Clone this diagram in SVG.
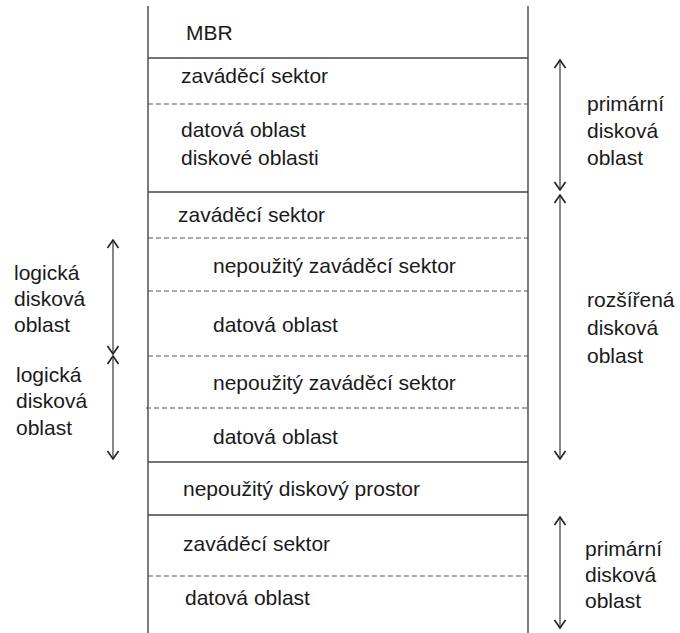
<svg xmlns="http://www.w3.org/2000/svg" width="680" height="633" viewBox="0 0 680 633">
<defs>
<marker id="ah" viewBox="0 0 10 12" refX="9" refY="6" markerWidth="10" markerHeight="12" markerUnits="userSpaceOnUse" orient="auto-start-reverse">
<path d="M1,0.5 L9,6 L1,11.5" fill="none" stroke="#222" stroke-width="1.6"/>
</marker>
</defs>
<style>
text{font-family:"Liberation Sans",Arial,sans-serif;font-size:21px;fill:#1a1a1a}
.box{stroke:#444;stroke-width:1.4;fill:none}
.sep{stroke:#444;stroke-width:1.4}
.dash{stroke:#555;stroke-width:1;stroke-dasharray:5,3}
.arr{stroke:#555;stroke-width:1.4;fill:none}
</style>
<g id="frame">
<line class="box" x1="148" y1="6" x2="148" y2="633"/>
<line class="box" x1="528" y1="6" x2="528" y2="633"/>
</g>
<g id="separators">
<line class="sep" x1="148" y1="58" x2="528" y2="58"/>
<line class="dash" x1="148" y1="104" x2="528" y2="104"/>
<line class="sep" x1="148" y1="192" x2="528" y2="192"/>
<line class="dash" x1="148" y1="238" x2="528" y2="238"/>
<line class="dash" x1="148" y1="291" x2="528" y2="291"/>
<line class="dash" x1="148" y1="356" x2="528" y2="356"/>
<line class="dash" x1="146" y1="408" x2="528" y2="408"/>
<line class="sep" x1="148" y1="462" x2="528" y2="462"/>
<line class="sep" x1="148" y1="515" x2="528" y2="515"/>
<line class="dash" x1="148" y1="576" x2="528" y2="576"/>
</g>
<g id="mbr"><text x="186" y="40">MBR</text></g>
<g id="p1-boot"><text x="181" y="83">zaváděcí sektor</text></g>
<g id="p1-data"><text x="181" y="137">datová oblast</text><text x="181" y="165">diskové oblasti</text></g>
<g id="ext-boot"><text x="178" y="222">zaváděcí sektor</text></g>
<g id="l1-boot"><text x="213" y="273">nepoužitý zaváděcí sektor</text></g>
<g id="l1-data"><text x="213" y="332">datová oblast</text></g>
<g id="l2-boot"><text x="213" y="390">nepoužitý zaváděcí sektor</text></g>
<g id="l2-data"><text x="213" y="444">datová oblast</text></g>
<g id="unused"><text x="183" y="496">nepoužitý diskový prostor</text></g>
<g id="p2-boot"><text x="183" y="551">zaváděcí sektor</text></g>
<g id="p2-data"><text x="185" y="605">datová oblast</text></g>
<g id="label-primary1"><text x="587" y="111">primární</text><text x="587" y="138">disková</text><text x="587" y="165">oblast</text></g>
<g id="label-extended"><text x="587" y="307">rozšířená</text><text x="587" y="335">disková</text><text x="587" y="363">oblast</text></g>
<g id="label-primary2"><text x="585" y="556">primární</text><text x="585" y="582">disková</text><text x="585" y="608">oblast</text></g>
<g id="label-logical1"><text x="14" y="280">logická</text><text x="14" y="306">disková</text><text x="14" y="332">oblast</text></g>
<g id="label-logical2"><text x="16" y="382">logická</text><text x="16" y="408">disková</text><text x="16" y="435">oblast</text></g>
<g id="connectors">
<line class="arr" x1="560" y1="60" x2="560" y2="190" marker-start="url(#ah)" marker-end="url(#ah)"/>
<line class="arr" x1="560" y1="195" x2="560" y2="459" marker-start="url(#ah)" marker-end="url(#ah)"/>
<line class="arr" x1="560" y1="517" x2="560" y2="628" marker-start="url(#ah)" marker-end="url(#ah)"/>
<line class="arr" x1="113" y1="240" x2="113" y2="354" marker-start="url(#ah)" marker-end="url(#ah)"/>
<line class="arr" x1="113" y1="356" x2="113" y2="459" marker-start="url(#ah)" marker-end="url(#ah)"/>
</g>
</svg>
